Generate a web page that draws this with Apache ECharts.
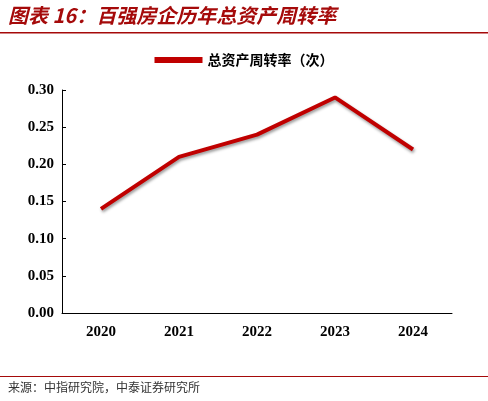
<!DOCTYPE html>
<html><head><meta charset="utf-8">
<script src="https://cdn.jsdelivr.net/npm/echarts@6/dist/echarts.min.js"></script>
<style>body{margin:0}#c{width:488px;height:401px}</style></head>
<body><div id="c"></div>
<script>
const categories=['2020','2021','2022','2023','2024'];
const turnover=[0.14,0.21,0.24,0.29,0.22];
const yTicks={min:0,max:0.30,interval:0.05};
const chart=echarts.init(document.getElementById('c'));
chart.setOption({
  animation:false,
  graphic:[
    {type:'text',left:8,top:5,style:{text:'图表 16：百强房企历年总资产周转率',fill:'#a50a0a',font:'italic bold 20px "Noto Sans CJK SC"'}},
    {type:'rect',shape:{x:0,y:32,width:488,height:1.5},style:{fill:'#a50a0a'}},
    {type:'rect',shape:{x:0,y:376,width:488,height:1},style:{fill:'#a50a0a'}},
    {type:'text',left:8,top:381,style:{text:'来源：中指研究院，中泰证券研究所',fill:'#333',font:'12px "Noto Sans CJK SC"'}}
  ],
  legend:{top:48,left:'center',itemWidth:48,itemHeight:6,icon:'rect',
    textStyle:{fontSize:14,color:'#000',fontWeight:'bold',fontFamily:'Noto Sans CJK SC'},data:['总资产周转率（次）']},
  grid:{left:62,right:36,top:90,bottom:88},
  xAxis:{type:'category',data:categories,boundaryGap:true,
    axisLine:{lineStyle:{color:'#000'}},axisTick:{show:false},
    axisLabel:{fontSize:15,fontWeight:'bold',color:'#000',fontFamily:'Times New Roman, Liberation Serif',margin:12}},
  yAxis:{type:'value',...yTicks,splitLine:{show:false},
    axisLine:{show:true,lineStyle:{color:'#000'}},axisTick:{show:true,inside:true,length:4,lineStyle:{color:'#000'}},
    axisLabel:{fontSize:15,fontWeight:'bold',color:'#000',fontFamily:'Times New Roman, Liberation Serif',margin:8,formatter:v=>v.toFixed(2)}},
  series:[{name:'总资产周转率（次）',type:'line',data:turnover,symbol:'none',color:'#c00000',
    lineStyle:{width:4,color:'#c00000',shadowColor:'rgba(0,0,0,0.4)',shadowBlur:3,shadowOffsetX:1,shadowOffsetY:2}}]
});
</script></body></html>
